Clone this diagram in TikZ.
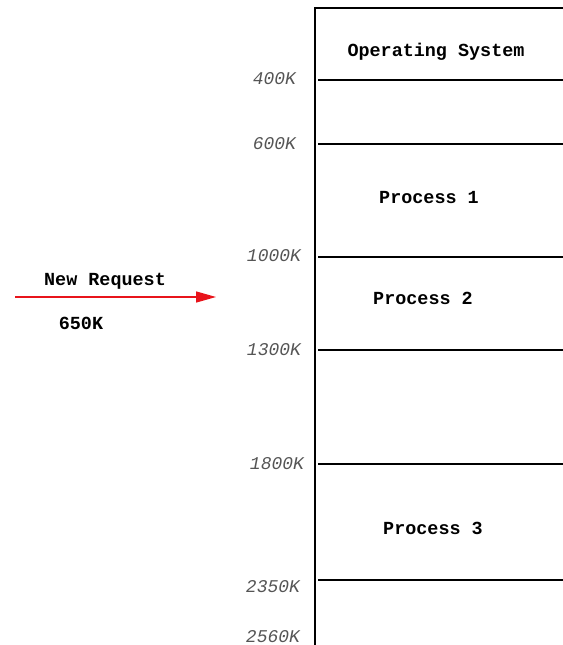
\documentclass[tikz,border=0pt]{standalone}
\usepackage{fontspec}
\setmonofont{Liberation Mono}
\usetikzlibrary{arrows.meta}
\definecolor{addrgray}{HTML}{555555}
\definecolor{reqred}{HTML}{E8141B}
\begin{document}
\begin{tikzpicture}[x=1bp,y=-1bp,
  addr/.style={anchor=east,inner sep=0pt,text=addrgray,
    font=\fontsize{18}{20}\selectfont\ttfamily\itshape},
  part/.style={inner sep=0pt,font=\fontsize{18.5}{20}\selectfont\ttfamily\bfseries},
  wall/.style={line width=1.6bp,black},
  divider/.style={line width=1.6bp,black}]
\useasboundingbox (0,0) rectangle (563,645);

% memory column
\coordinate (topL) at (315,8);
\coordinate (topR) at (563,8);
\coordinate (botL) at (315,645);
\draw[wall] (botL) -- (topL) -- (topR);

% partition boundaries and their addresses
\foreach \y/\lab/\lx/\ly/\nm in {80/400K/296/79/a, 144/600K/296/144/b, 257/1000K/301/256/c,
    350/1300K/301/350/d, 464/1800K/304/464/e, 580/2350K/300/587/f} {
  \coordinate (l\nm) at (318,\y);
  \coordinate (r\nm) at (563,\y);
  \draw[divider] (l\nm) -- (r\nm);
  \node[addr] (t\nm) at (\lx,\ly) {\lab};
}
\node[addr] (tg) at (300,637) {2560K};

% partition contents
\node[part] (os) at (436,52) {Operating System};
\node[part] (p1) at (429,198) {Process 1};
\node[part] (p2) at (423,298) {Process 2};
\node[part] (p3) at (433,528) {Process 3};

% incoming request
\node[part] (req) at (105,281) {New Request};
\node[part] (size) at (81,323) {650K};
\coordinate (arrS) at (15,297);
\coordinate (arrE) at (216,297);
\draw[reqred,line width=1.4bp,-{Triangle[length=20bp,width=11bp]}] (arrS) -- (arrE);
\end{tikzpicture}
\end{document}
